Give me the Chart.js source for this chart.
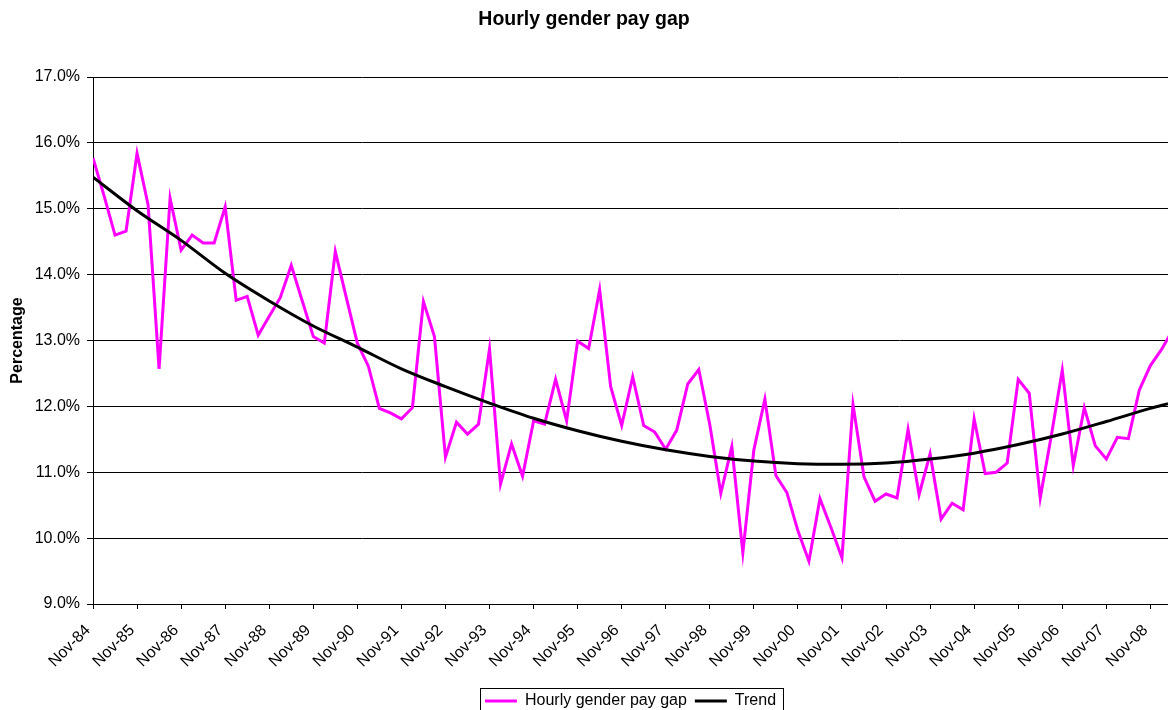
<!DOCTYPE html>
<html>
<head>
<meta charset="utf-8">
<title>Hourly gender pay gap</title>
<script src="https://cdn.jsdelivr.net/npm/chart.js@4.4.1/dist/chart.umd.min.js"></script>
<style>
  html, body { margin: 0; padding: 0; overflow: hidden; background: #fff; }
</style>
</head>
<body>
<canvas id="payChart" width="1168" height="719"></canvas>
<script>
// quarterly values, first one is Nov-84
const payGap = [
  15.77, 15.20, 14.60, 14.66, 15.84, 15.06, 12.57, 15.16, 14.37, 14.60,
  14.48, 14.48, 15.03, 13.61, 13.67, 13.08, 13.37, 13.65, 14.14, 13.60,
  13.06, 12.96, 14.35, 13.65, 12.96, 12.61, 11.97, 11.90, 11.81, 11.98,
  13.59, 13.06, 11.23, 11.76, 11.58, 11.73, 12.87, 10.82, 11.43, 10.94,
  11.78, 11.73, 12.41, 11.78, 12.99, 12.88, 13.77, 12.30, 11.71, 12.45,
  11.71, 11.61, 11.35, 11.64, 12.34, 12.56, 11.72, 10.68, 11.39, 9.78,
  11.34, 12.11, 10.95, 10.69, 10.11, 9.65, 10.60, 10.16, 9.70, 12.03,
  10.93, 10.56, 10.67, 10.61, 11.65, 10.66, 11.28, 10.29, 10.53, 10.43,
  11.81, 10.98, 11.00, 11.14, 12.41, 12.20, 10.61, 11.55, 12.55, 11.10,
  11.98, 11.40, 11.20, 11.53, 11.51, 12.25, 12.62, 12.86, 13.15
];

// one label per year (every 4th quarter)
const yearLabels = [
  'Nov-84', 'Nov-85', 'Nov-86', 'Nov-87', 'Nov-88', 'Nov-89', 'Nov-90',
  'Nov-91', 'Nov-92', 'Nov-93', 'Nov-94', 'Nov-95', 'Nov-96', 'Nov-97',
  'Nov-98', 'Nov-99', 'Nov-00', 'Nov-01', 'Nov-02', 'Nov-03', 'Nov-04',
  'Nov-05', 'Nov-06', 'Nov-07', 'Nov-08'
];

// trend curve, read at each year tick and at the right edge
const trendQuarters = [0, 4, 8, 12, 16, 20, 24, 28, 32, 36, 40, 44, 48,
  52, 56, 60, 64, 68, 72, 76, 80, 84, 88, 92, 96, 97.6];
const trendValues = [15.48, 14.97, 14.52, 14.02, 13.60, 13.22, 12.90, 12.57,
  12.30, 12.05, 11.82, 11.63, 11.47, 11.34, 11.24, 11.17, 11.13, 11.12,
  11.14, 11.20, 11.29, 11.42, 11.58, 11.77, 11.97, 12.04];

const lastQuarter = 97.6;   // chart is cut off here on the right

const fontFamily = '"Liberation Sans", Arial, sans-serif';
Chart.defaults.font.family = fontFamily;
Chart.defaults.color = '#000';

// box round the legend, like the Excel one
const legendBox = {
  id: 'legendBox',
  afterDraw(chart) {
    const boxes = chart.legend && chart.legend.legendHitBoxes;
    if (!boxes || !boxes.length) return;
    const left = Math.min(...boxes.map(b => b.left)) - 5;
    const right = Math.max(...boxes.map(b => b.left + b.width)) + 7;
    const top = Math.min(...boxes.map(b => b.top)) - 5;
    const bottom = Math.max(...boxes.map(b => b.top + b.height)) + 6;
    const ctx = chart.ctx;
    ctx.save();
    ctx.strokeStyle = '#000';
    ctx.lineWidth = 1;
    ctx.strokeRect(Math.round(left) + 0.5, Math.round(top) + 0.5,
      Math.round(right - left), Math.round(bottom - top));
    ctx.restore();
  }
};

const ctx = document.getElementById('payChart');

new Chart(ctx, {
  type: 'line',
  data: {
    datasets: [
      {
        label: 'Hourly gender pay gap',
        data: payGap.map((v, i) => ({ x: i, y: v })),
        borderColor: '#ff00ff',
        backgroundColor: '#ff00ff',
        borderWidth: 3,
        pointRadius: 0,
        tension: 0,
        order: 1
      },
      {
        label: 'Trend',
        data: trendQuarters.map((q, i) => ({ x: q, y: trendValues[i] })),
        borderColor: '#000',
        backgroundColor: '#000',
        borderWidth: 3,
        pointRadius: 0,
        cubicInterpolationMode: 'monotone',
        order: 0
      }
    ]
  },
  plugins: [legendBox],
  options: {
    responsive: false,
    animation: false,
    devicePixelRatio: 1,
    layout: { padding: 0 },
    plugins: {
      title: {
        display: true,
        text: 'Hourly gender pay gap',
        font: { size: 19.5, weight: 'bold' },
        padding: { top: 8, bottom: 45.6 }
      },
      legend: {
        position: 'bottom',
        fullSize: false,
        labels: {
          usePointStyle: true,
          pointStyle: 'line',
          pointStyleWidth: 32,
          padding: 8,
          font: { size: 16 },
          sort: (a, b) => a.datasetIndex - b.datasetIndex
        }
      },
      tooltip: { enabled: false }
    },
    scales: {
      x: {
        type: 'linear',
        min: 0,
        max: lastQuarter,
        afterFit: (scale) => {
          scale.height = 81;
          scale.paddingLeft = 0;
          scale.paddingRight = 0;
        },
        border: { color: '#000', width: 1 },
        grid: { drawOnChartArea: false, drawTicks: true, tickLength: 5, color: '#000' },
        ticks: {
          stepSize: 4,
          includeBounds: false,
          autoSkip: false,
          maxRotation: 45,
          minRotation: 45,
          padding: 12,
          labelOffset: -5,
          font: { size: 16 },
          callback: (v) => yearLabels[Math.round(v / 4)]
        }
      },
      y: {
        min: 9,
        max: 17,
        afterFit: (scale) => { scale.width = 93; },
        border: { color: '#000', width: 1 },
        grid: { color: '#000', tickLength: 6 },
        ticks: {
          stepSize: 1,
          padding: 7,
          font: { size: 16 },
          callback: (v) => v.toFixed(1) + '%'
        },
        title: {
          display: true,
          text: 'Percentage',
          font: { size: 16, weight: 'bold' },
          padding: { top: 8, bottom: 0 }
        }
      }
    }
  }
});
</script>
</body>
</html>
